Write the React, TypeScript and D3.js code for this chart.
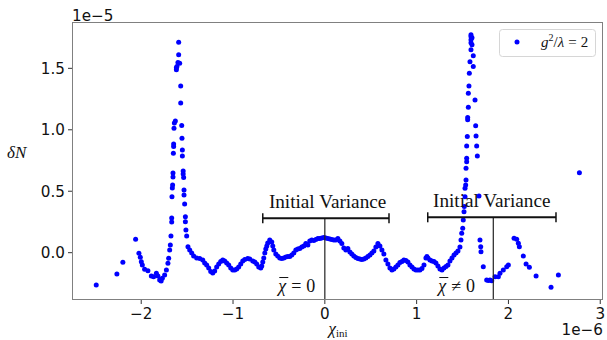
import React from 'react';
import * as d3 from 'd3';

// chi_ini values (units of 1e-6) and deltaN values (units of 1e-5)
const X_VALUES: number[] = [
  -2.490, -2.265, -2.200, -2.061, -2.025, -2.010, -1.999, -1.988, -1.963, -1.927,
  -1.890, -1.865, -1.835, -1.818, -1.799, -1.783, -1.770, -1.745, -1.726, -1.709,
  -1.701, -1.690, -1.683, -1.676, -1.668, -1.668, -1.665, -1.661, -1.658, -1.654,
  -1.654, -1.650, -1.647, -1.647, -1.643, -1.639, -1.628, -1.617, -1.617, -1.611,
  -1.600, -1.592, -1.592, -1.581, -1.570, -1.570, -1.559, -1.556, -1.552, -1.552,
  -1.543, -1.543, -1.538, -1.534, -1.534, -1.527, -1.519, -1.519, -1.513, -1.505,
  -1.491,
  -1.472, -1.450, -1.429, -1.396, -1.363, -1.330, -1.309, -1.287, -1.265, -1.243,
  -1.221, -1.200, -1.178, -1.156, -1.134, -1.112, -1.091, -1.069, -1.047, -1.025,
  -1.003, -0.981, -0.960, -0.938, -0.916, -0.894, -0.872, -0.840, -0.818, -0.785,
  -0.763, -0.742, -0.720, -0.698, -0.687, -0.676, -0.665, -0.654, -0.643, -0.632,
  -0.622, -0.600, -0.578, -0.567, -0.556, -0.534, -0.513, -0.491, -0.469, -0.447,
  -0.425, -0.403, -0.382, -0.360, -0.338, -0.316, -0.294, -0.273, -0.251, -0.229,
  -0.207, -0.185, -0.164, -0.142, -0.120, -0.098, -0.076, -0.055, -0.033, -0.011,
  0.011, 0.033, 0.055, 0.076, 0.098, 0.120, 0.142, 0.164, 0.185, 0.207,
  0.229, 0.251, 0.273, 0.294, 0.316, 0.338, 0.360, 0.382, 0.403, 0.425,
  0.447, 0.469, 0.491, 0.513, 0.534, 0.556, 0.578, 0.600, 0.622, 0.643,
  0.665, 0.687, 0.709, 0.731, 0.752, 0.774, 0.796, 0.818, 0.840, 0.861,
  0.883, 0.905, 0.927, 0.949, 0.971, 0.992, 1.014, 1.036, 1.058, 1.080,
  1.101, 1.112, 1.123, 1.145, 1.167, 1.189, 1.210, 1.232, 1.254, 1.276,
  1.298, 1.320, 1.341, 1.363, 1.385, 1.407, 1.429, 1.450, 1.472, 1.483,
  1.491, 1.502, 1.508, 1.516, 1.519, 1.527, 1.527, 1.534, 1.538, 1.538,
  1.545, 1.545, 1.545, 1.552, 1.556, 1.556, 1.563, 1.563, 1.570, 1.574,
  1.581, 1.592, 1.592, 1.592, 1.592, 1.592,
  1.603, 1.603, 1.617, 1.617, 1.636, 1.643, 1.647, 1.654, 1.661, 1.679,
  1.690, 1.698, 1.701, 1.726, 1.763, 1.781, 1.799, 1.818, 1.854, 1.890,
  1.908, 1.944, 1.981, 1.999, 2.061, 2.090, 2.108, 2.119, 2.162, 2.192,
  2.228, 2.301, 2.464, 2.544, 2.773,
];
const Y_VALUES: number[] = [
  -0.263, -0.173, -0.078, 0.109, -0.005, -0.037, -0.073, -0.100, -0.135, -0.147,
  -0.190, -0.195, -0.168, -0.190, -0.222, -0.230, -0.208, -0.182, -0.141, -0.086,
  -0.046, 0.022, 0.063, 0.136, 0.250, 0.283, 0.456, 0.527, 0.551, 0.616,
  0.649, 0.809, 0.863, 0.885, 1.013, 1.056, 1.072, 1.488, 1.504, 1.515,
  1.547, 1.610, 1.713, 1.542, 1.357, 1.217, 1.034, 0.932, 0.836, 0.787,
  0.665, 0.641, 0.611, 0.511, 0.470, 0.397, 0.293, 0.252, 0.185, 0.136,
  0.049,
  0.022, -0.002, -0.027, -0.043, -0.047, -0.059, -0.084, -0.100, -0.125, -0.153,
  -0.165, -0.149, -0.116, -0.092, -0.072, -0.059, -0.068, -0.084, -0.100, -0.125,
  -0.141, -0.141, -0.133, -0.116, -0.092, -0.068, -0.055, -0.047, -0.051, -0.068,
  -0.076, -0.092, -0.116, -0.125, -0.108, -0.076, -0.043, -0.002, 0.030, 0.055,
  0.079, 0.103, 0.087, 0.055, 0.022, -0.011, -0.027, -0.043, -0.047, -0.043,
  -0.035, -0.031, -0.031, -0.019, -0.002, 0.022, 0.030, 0.034, 0.046, 0.055,
  0.075, 0.063, 0.095, 0.103, 0.099, 0.107, 0.116, 0.116, 0.120, 0.124,
  0.120, 0.116, 0.112, 0.107, 0.103, 0.103, 0.116, 0.095, 0.075, 0.038,
  0.022, 0.034, 0.006, -0.011, -0.027, -0.039, -0.047, -0.051, -0.055, -0.051,
  -0.043, -0.031, -0.019, -0.002, 0.014, 0.046, 0.075, 0.055, 0.022, -0.011,
  -0.059, -0.092, -0.125, -0.141, -0.133, -0.116, -0.100, -0.080, -0.072, -0.059,
  -0.064, -0.076, -0.100, -0.116, -0.133, -0.141, -0.141, -0.141, -0.129, -0.100,
  -0.043, -0.031, -0.043, -0.059, -0.068, -0.072, -0.084, -0.108, -0.133, -0.141,
  -0.125, -0.112, -0.100, -0.068, -0.043, -0.019, -0.002, 0.014, 0.046, 0.103,
  0.158, 0.199, 0.266, 0.334, 0.375, 0.456, 0.524, 0.551, 0.592, 0.687,
  0.739, 0.769, 0.869, 0.945, 1.081, 1.099, 1.184, 1.298, 1.357, 1.461,
  1.553, 1.651, 1.708, 1.732, 1.759, 1.773,
  1.748, 1.691, 1.602, 1.515, 1.243, 1.032, 0.950, 0.869, 0.787, 0.462,
  0.103, 0.049, 0.008, -0.114, -0.222, -0.226, -0.222, -0.228, -0.195, -0.195,
  -0.168, -0.141, -0.114, -0.100, 0.117, 0.109, 0.077, 0.049, -0.027, -0.092,
  -0.119, -0.190, -0.282, -0.182, 0.651,
];

const SERIES_NAME = 'g²/λ = 2';
const X_TICKS = [-2, -1, 0, 1, 2, 3];
const Y_TICKS = [0, 0.5, 1.0, 1.5];
const X_DOMAIN = [-2.754, 3.03];
const Y_DOMAIN = [-0.385, 1.877];

// annotations (data units)
const ANNOT_LINE_X = [0, 1.835];
const ANNOT_TEXT_X = [0.03, 1.818];
const ANNOT_TEXT_Y = [0.361, 0.375];
const ANNOT_BRACKET_LO = [-0.676, 1.121];
const ANNOT_BRACKET_HI = [0.699, 2.518];
const ANNOT_BRACKET_Y = [0.28, 0.288];
const ANNOT_LABEL_X = [-0.507, 1.236];
const ANNOT_LABEL_Y = [-0.316, -0.316];
const ANNOT_LABEL_OP = ['=', '≠'];
const ANNOT_TEXT = 'Initial Variance';

const W = 607;
const H = 340;
const L = 72;
const R = 603;
const T = 22;
const B = 300;

const SANS = 'DejaVu Sans, sans-serif';
const SERIF = 'Liberation Serif, Times New Roman, serif';

const fmtX = (v: number) => (v < 0 ? '\u2212' + Math.abs(v) : String(v));
const fmtY = (v: number) => v.toFixed(1);

export default function App() {
  const x = d3.scaleLinear().domain(X_DOMAIN).range([L, R]);
  const y = d3.scaleLinear().domain(Y_DOMAIN).range([B, T]);
  const pts = X_VALUES.map((xv, i) => [xv, Y_VALUES[i]] as [number, number]);

  return (
    <svg
      width={W}
      height={H}
      style={{ position: 'absolute', left: 0, top: 0, background: '#fff' }}
    >
      <defs>
        <clipPath id="plot">
          <rect x={L} y={T} width={R - L} height={B - T} />
        </clipPath>
      </defs>

      <g clipPath="url(#plot)">
        {pts.map(([xv, yv], i) => (
          <circle key={i} cx={x(xv)} cy={y(yv)} r={2.5} fill="#0000ff" />
        ))}
      </g>

      {/* annotations */}
      {ANNOT_LINE_X.map((cx, i) => {
        const lx = x(cx);
        const by = y(ANNOT_BRACKET_Y[i]);
        const x0 = x(ANNOT_BRACKET_LO[i]);
        const x1 = x(ANNOT_BRACKET_HI[i]);
        const labX = x(ANNOT_LABEL_X[i]);
        const labY = y(ANNOT_LABEL_Y[i]);
        return (
          <g key={'a' + i}>
            <line x1={lx} x2={lx} y1={by} y2={B} stroke="#222" strokeWidth={1.2} />
            <line x1={x0} x2={x1} y1={by} y2={by} stroke="#111" strokeWidth={2} />
            <line x1={x0} x2={x0} y1={by - 5} y2={by + 5} stroke="#111" strokeWidth={1.5} />
            <line x1={x1} x2={x1} y1={by - 5} y2={by + 5} stroke="#111" strokeWidth={1.5} />
            <text
              x={x(ANNOT_TEXT_X[i])}
              y={y(ANNOT_TEXT_Y[i])}
              textAnchor="middle"
              fontFamily={SERIF}
              fontSize={19.2}
              fill="#111"
            >
              {ANNOT_TEXT}
            </text>
            <text x={labX} y={labY} fontFamily={SERIF} fontSize={18} fill="#111">
              <tspan fontStyle="italic">χ</tspan>
              <tspan dx={5}>{ANNOT_LABEL_OP[i]}</tspan>
              <tspan dx={5}>0</tspan>
            </text>
            <line x1={labX + 1} x2={labX + 10} y1={labY - 14} y2={labY - 14} stroke="#111" strokeWidth={1} />
          </g>
        );
      })}

      {/* frame */}
      <rect x={L + 0.5} y={T + 0.5} width={R - L - 1} height={B - T - 1} fill="none" stroke="#808080" strokeWidth={1} />

      {/* x ticks */}
      {X_TICKS.map((t) => (
        <g key={'xt' + t}>
          <line x1={x(t)} x2={x(t)} y1={B} y2={B + 4} stroke="#333" strokeWidth={1} />
          <text x={x(t)} y={318.5} textAnchor="middle" fontFamily={SANS} fontSize={15.2} fill="#111">
            {fmtX(t)}
          </text>
        </g>
      ))}
      {/* y ticks */}
      {Y_TICKS.map((t) => (
        <g key={'yt' + t}>
          <line x1={L - 4} x2={L} y1={y(t)} y2={y(t)} stroke="#333" strokeWidth={1} />
          <text x={65} y={y(t) + 5.4} textAnchor="end" fontFamily={SANS} fontSize={15.2} fill="#111">
            {fmtY(t)}
          </text>
        </g>
      ))}

      {/* offset texts */}
      <text x={L} y={20.5} fontFamily={SANS} fontSize={15.2} fill="#111">1e−5</text>
      <text x={R} y={335} textAnchor="end" fontFamily={SANS} fontSize={15.2} fill="#111">1e−6</text>

      {/* axis labels */}
      <text x={7} y={158} fontFamily={SERIF} fontSize={17} fill="#111">
        <tspan fontStyle="italic">δN</tspan>
      </text>
      <text x={338} y={334} textAnchor="middle" fontFamily={SERIF} fontSize={17} fill="#111">
        <tspan fontStyle="italic">χ</tspan>
        <tspan fontSize={11} dy={3}>ini</tspan>
      </text>

      {/* legend */}
      <rect x={499.5} y={29.5} width={96} height={27} rx={3} fill="#fff" fillOpacity={0.85} stroke="#d6d6d6" strokeWidth={1} />
      <circle cx={517} cy={42} r={2.5} fill="#0000ff" />
      <text x={541} y={47} fontFamily={SERIF} fontSize={15} fill="#111">
        <tspan fontStyle="italic">g</tspan>
        <tspan fontSize={10} dy={-6}>2</tspan>
        <tspan dy={6}>/</tspan>
        <tspan fontStyle="italic">λ</tspan>
        <tspan dx={4}>=</tspan>
        <tspan dx={4}>2</tspan>
      </text>
      <title>{SERIES_NAME}</title>
    </svg>
  );
}
